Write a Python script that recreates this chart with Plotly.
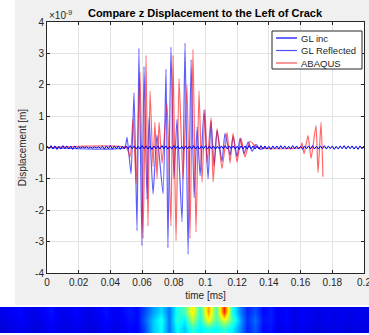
import numpy as np
import plotly.graph_objects as go

# ---------------- data (displacement in units of 1e-9 m) ----------------
refl_t = [0.0, 0.0490, 0.0505, 0.0530, 0.0549, 0.0568, 0.0580, 0.0599, 0.0612, 0.0631,
          0.0644, 0.0669, 0.0694, 0.0732, 0.0751, 0.0763, 0.0782, 0.0801, 0.0820, 0.0852,
          0.0871, 0.0890, 0.0909, 0.0928, 0.0947, 0.0966, 0.0991, 0.1016, 0.1035, 0.1054,
          0.1073, 0.1104, 0.1123, 0.1155, 0.1174, 0.1199, 0.1218, 0.1243, 0.1269, 0.1294,
          0.1319, 0.1345, 0.1380]
refl_v = [0.0, 0.0, 0.32, -0.84, 1.75, -2.65, 3.16, -3.13, 2.58, -1.65,
          0.95, -1.48, 0.40, -1.47, 2.50, -3.20, 3.20, -1.00, 0.90, -2.37,
          3.33, -3.40, 2.80, -1.60, 0.65, -0.90, 1.20, -1.00, 0.85, -0.60,
          0.54, -0.45, 0.45, -0.25, 0.35, -0.30, 0.30, -0.20, 0.18, -0.12,
          0.10, -0.06, 0.0]

abaqus_t = [0.0, 0.0500, 0.0524, 0.0543, 0.0562, 0.0587, 0.0606, 0.0625, 0.0637, 0.0650,
            0.0669, 0.0681, 0.0694, 0.0707, 0.0726, 0.0757, 0.0782, 0.0795, 0.0814, 0.0833,
            0.0858, 0.0883, 0.0902, 0.0921, 0.0940, 0.0959, 0.0978, 0.0997, 0.1010, 0.1035,
            0.1048, 0.1073, 0.1104, 0.1136, 0.1155, 0.1174, 0.1199, 0.1224, 0.1249, 0.1281,
            0.1325, 0.1600, 0.1609, 0.1622, 0.1647, 0.1666, 0.1697, 0.1710, 0.1729, 0.1741]
abaqus_v = [0.0, 0.0, -0.30, 0.93, -1.15, 2.40, -2.90, 2.94, -2.50, 1.80,
            -0.60, 0.80, -1.00, 0.80, -0.50, 1.40, -2.50, 2.94, -2.97, 2.20,
            -1.00, 2.00, -2.90, 3.13, -2.70, 1.80, -1.10, 1.20, -0.50, 0.95,
            -1.10, 0.60, -0.67, 0.48, -0.50, 0.45, -0.47, 0.30, -0.30, 0.20,
            0.0, 0.0, 0.15, -0.20, 0.38, -0.35, 0.70, -0.80, 0.80, -0.93]

inc_v = [0.05, -0.04, 0.06, -0.05, 0.05, -0.06, 0.04, -0.05, 0.06, -0.04,
         0.05, -0.05, 0.04, -0.06, 0.05, -0.04, 0.02, -0.02, 0.02, -0.01,
         0.02, -0.02, 0.01, -0.02, 0.02, -0.01, 0.02, -0.02, 0.04, -0.05,
         0.05, -0.04, 0.06, -0.05, 0.05, -0.04, 0.05, -0.06, 0.04, -0.05,
         0.05, -0.05, 0.06, -0.04, 0.05, -0.05, 0.04, -0.05, 0.06, -0.04,
         0.05, -0.05, 0.04, -0.06, 0.05, -0.04, 0.05, -0.05, 0.06, -0.04,
         0.05, -0.05, 0.04, -0.05, 0.06, -0.04, 0.05, -0.05, 0.04, -0.06,
         0.05, -0.04, 0.05, -0.05, 0.06, -0.05, 0.04, -0.05, 0.05, -0.04,
         0.06, -0.05, 0.05, -0.04, 0.05, -0.06, 0.04, -0.05, 0.05, -0.04,
         0.06, -0.05, 0.05, -0.04, 0.05, -0.05, 0.04, -0.06, 0.05, -0.04,
         0.05, -0.05, 0.06, -0.04, 0.05, -0.05, 0.04, -0.05, 0.06, -0.04,
         0.05, -0.05, 0.04, -0.06, 0.05, -0.04, 0.05, -0.05, 0.06, -0.04,
         0.05, -0.05, 0.04, -0.05, 0.06, -0.04, 0.05, -0.05, 0.04, -0.06,
         0.05, -0.04, 0.05, -0.05, 0.06, -0.05, 0.04, -0.05, 0.05, -0.04,
         0.06, -0.05, 0.05, -0.04, 0.05, -0.06, 0.04, -0.05, 0.05, -0.04,
         0.06, -0.05, 0.05, -0.04, 0.05, -0.05, 0.04, -0.06, 0.05, -0.04,
         0.05]
inc_t = np.linspace(0.0, 0.2, len(inc_v))

x_ticks = [0, 0.02, 0.04, 0.06, 0.08, 0.1, 0.12, 0.14, 0.16, 0.18, 0.2]
x_tick_labels = ["0", "0.02", "0.04", "0.06", "0.08", "0.1", "0.12", "0.14", "0.16", "0.18", "0.2"]
y_ticks = [-4, -3, -2, -1, 0, 1, 2, 3, 4]
y_tick_labels = ["-4", "-3", "-2", "-1", "0", "1", "2", "3", "4"]

legend_names = ["GL inc", "GL Reflected", "ABAQUS"]
legend_colors = ["#0000ff", "#5050ff", "#ff5050"]

strip_top = [0.11, 0.12, 0.13, 0.11, 0.10, 0.12, 0.14, 0.11, 0.11, 0.13, 0.11, 0.10, 0.12, 0.14, 0.11, 0.13, 0.15, 0.13,
             0.20, 0.28, 0.34, 0.24, 0.40, 0.45, 0.64, 0.42, 0.72, 0.45, 0.84, 0.40, 0.26, 0.16, 0.20, 0.13,
             0.15, 0.11, 0.13, 0.10, 0.12, 0.11, 0.10, 0.11, 0.10, 0.11, 0.10, 0.11, 0.10]
strip_mid = [0.10, 0.11, 0.12, 0.11, 0.10, 0.11, 0.13, 0.11, 0.10, 0.12, 0.11, 0.10, 0.11, 0.13, 0.11, 0.12, 0.14, 0.13,
             0.22, 0.32, 0.40, 0.24, 0.42, 0.36, 0.55, 0.40, 0.62, 0.45, 0.60, 0.45, 0.30, 0.17, 0.23, 0.14,
             0.15, 0.11, 0.13, 0.10, 0.12, 0.11, 0.10, 0.11, 0.10, 0.11, 0.10, 0.11, 0.10]
strip_bot = [0.09, 0.10, 0.11, 0.10, 0.09, 0.10, 0.12, 0.10, 0.10, 0.11, 0.10, 0.09, 0.10, 0.12, 0.10, 0.11, 0.13, 0.12,
             0.20, 0.32, 0.38, 0.24, 0.38, 0.32, 0.42, 0.36, 0.40, 0.38, 0.42, 0.36, 0.27, 0.16, 0.21, 0.13,
             0.14, 0.10, 0.12, 0.10, 0.11, 0.10, 0.09, 0.10, 0.10, 0.10, 0.09, 0.10, 0.10]

# ---------------- figure ----------------
W, H = 369, 335
FONT = "Liberation Sans, Arial, sans-serif"
TXT = "#262626"

def px_x(x):
    return x / W

def px_y(y):
    return 1 - y / H

fig = go.Figure()

fig.add_trace(go.Scatter(x=refl_t, y=refl_v, mode="lines", name=legend_names[1],
                         line=dict(color="rgba(30,30,255,0.72)", width=1.2, shape="spline", smoothing=0.5),
                         showlegend=False))
fig.add_trace(go.Scatter(x=abaqus_t, y=abaqus_v, mode="lines", name=legend_names[2],
                         line=dict(color="rgba(255,20,20,0.65)", width=1.2, shape="spline", smoothing=0.5),
                         showlegend=False))
fig.add_trace(go.Scatter(x=inc_t, y=inc_v, mode="lines", name=legend_names[0],
                         line=dict(color="#0000ff", width=1), showlegend=False))

jet = [[0.0, "rgb(0,0,128)"], [0.125, "rgb(0,0,255)"], [0.375, "rgb(0,255,255)"],
       [0.625, "rgb(255,255,0)"], [0.875, "rgb(255,0,0)"], [1.0, "rgb(128,0,0)"]]
fig.add_trace(go.Heatmap(z=[strip_bot, strip_mid, strip_top], colorscale=jet, zmin=0, zmax=1,
                         zsmooth="best", showscale=False, xaxis="x2", yaxis="y2",
                         hoverinfo="skip"))

x0, x1 = px_x(47), px_x(364)
y0, y1 = px_y(273), px_y(22)

axis_common = dict(showline=True, linecolor=TXT, linewidth=1, mirror="ticks",
                   ticks="inside", ticklen=3, tickcolor=TXT, showgrid=True,
                   gridcolor="#e3e3e3", gridwidth=1, zeroline=False,
                   ticklabeloverflow="allow",
                   tickfont=dict(family=FONT, size=10, color=TXT), automargin=False)

# custom legend box (MATLAB style)
shapes = [
    dict(type="rect", xref="paper", yref="paper", x0=0, x1=px_x(15), y0=0, y1=1,
         fillcolor="white", line=dict(width=0), layer="below"),
    dict(type="rect", xref="paper", yref="paper", x0=0, x1=1, y0=0, y1=px_y(305),
         fillcolor="white", line=dict(width=0), layer="below"),
    dict(type="rect", xref="paper", yref="paper", x0=px_x(272), x1=px_x(362),
         y0=px_y(69), y1=px_y(31), fillcolor="white", line=dict(color=TXT, width=1), layer="above"),
]
annotations = [
    dict(text="\u00d710<sup>-9</sup>", xref="paper", yref="paper", x=px_x(47), y=px_y(15),
         xanchor="left", yanchor="middle", showarrow=False,
         font=dict(family=FONT, size=10, color=TXT)),
]
legend_rows = [38, 50.5, 63]
for name, col, yy in zip(legend_names, legend_colors, legend_rows):
    shapes.append(dict(type="line", xref="paper", yref="paper", x0=px_x(276), x1=px_x(297),
                       y0=px_y(yy), y1=px_y(yy), line=dict(color=col, width=1.2), layer="above"))
    annotations.append(dict(text=name, xref="paper", yref="paper", x=px_x(299), y=px_y(yy),
                            xanchor="left", yanchor="middle", showarrow=False,
                            font=dict(family=FONT, size=9.5, color=TXT)))

fig.update_layout(
    width=W, height=H,
    margin=dict(l=0, r=0, t=0, b=0),
    paper_bgcolor="#f0f0f0",
    plot_bgcolor="white",
    font=dict(family=FONT, size=10, color=TXT),
    title=dict(text="<b>Compare z Displacement to the Left of Crack</b>",
               x=205 / W, xanchor="center", y=px_y(13), yanchor="middle",
               font=dict(family=FONT, size=11, color="black")),
    xaxis=dict(domain=[x0, x1], range=[0, 0.2], tickvals=x_ticks, ticktext=x_tick_labels,
               title=dict(text="time [ms]", font=dict(family=FONT, size=10, color=TXT), standoff=4),
               **axis_common),
    yaxis=dict(domain=[y0, y1], range=[-4, 4], tickvals=y_ticks, ticktext=y_tick_labels,
               title=dict(text="Displacement [m]", font=dict(family=FONT, size=10, color=TXT), standoff=6),
               **axis_common),
    xaxis2=dict(domain=[0, 1], range=[-0.5, len(strip_mid) - 0.5], visible=False, fixedrange=True),
    yaxis2=dict(domain=[px_y(333), px_y(307)], range=[-0.5, 2.5], visible=False, fixedrange=True),
    showlegend=False,
    shapes=shapes,
    annotations=annotations,
)

fig.write_html("out.html", config={"displayModeBar": False},
               post_script="document.body.style.margin='0';document.body.style.overflow='hidden';")
